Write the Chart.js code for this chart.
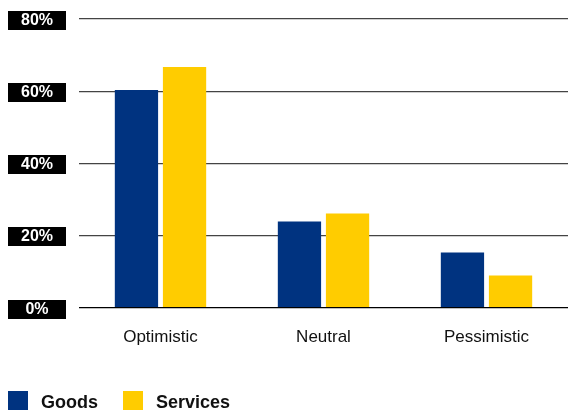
<!DOCTYPE html>
<html>
<head>
<meta charset="utf-8">
<script src="https://cdn.jsdelivr.net/npm/chart.js@4.4.0/dist/chart.umd.min.js"></script>
<style>
  html, body { margin: 0; padding: 0; background: #fff; }
  #wrap { position: relative; width: 568px; height: 410px; }
  #legend { position: absolute; left: 8px; top: 390px; display: flex; font: bold 18px "Liberation Sans", Arial, sans-serif; color: #111; }
  #legend .item { display: flex; align-items: center; margin-right: 25px; height: 20px; padding-top: 2px; }
  #legend .box { width: 20px; height: 20px; margin-right: 13px; margin-top: -2px; }
</style>
</head>
<body>
<div id="wrap">
  <canvas id="myChart" width="568" height="410"></canvas>
  <div id="legend"></div>
</div>
<script>
const categories = ["Optimistic", "Neutral", "Pessimistic"];
const goods = [60.3, 23.9, 15.3];
const services = [66.7, 26.1, 8.9];
const tickValues = [0, 20, 40, 60, 80];

const seriesColors = { Goods: "#003380", Services: "#ffcc00" };

// Black label boxes for the y axis
const yLabelBoxes = {
  id: "yLabelBoxes",
  afterDraw(chart) {
    const { ctx, scales } = chart;
    ctx.save();
    ctx.font = "bold 16px 'Liberation Sans', Arial, sans-serif";
    ctx.textAlign = "center";
    ctx.textBaseline = "middle";
    tickValues.forEach((v) => {
      const y = Math.round(scales.y.getPixelForValue(v));
      ctx.fillStyle = "#000";
      ctx.fillRect(8, y - 8, 58, 19);
      ctx.fillStyle = "#fff";
      ctx.fillText(v + "%", 37, y + 2);
    });
    ctx.restore();
  },
};

const ctx = document.getElementById("myChart").getContext("2d");
const chart = new Chart(ctx, {
  type: "bar",
  data: {
    labels: categories,
    datasets: [
      { label: "Goods", data: goods, backgroundColor: seriesColors.Goods },
      { label: "Services", data: services, backgroundColor: seriesColors.Services },
    ],
  },
  options: {
    responsive: false,
    animation: false,
    layout: { padding: { top: 19, left: 79, right: 0, bottom: 42 } },
    categoryPercentage: 0.59,
    barPercentage: 0.9,
    plugins: { legend: { display: false }, tooltip: { enabled: false } },
    scales: {
      x: {
        grid: { display: false, drawTicks: false },
        border: { display: false },
        ticks: {
          padding: 20,
          color: "#111",
          font: { family: "'Liberation Sans', Arial, sans-serif", size: 17 },
        },
      },
      y: {
        min: 0,
        max: 80,
        afterBuildTicks: (scale) => {
          scale.ticks = tickValues.map((v) => ({ value: v }));
        },
        ticks: { display: false },
        grid: {
          drawTicks: false,
          color: (c) => (c.tick && c.tick.value === 0 ? "#000" : "#444"),
          lineWidth: 1.3,
        },
        border: { display: false },
      },
    },
  },
  plugins: [yLabelBoxes],
});

// HTML legend built from the datasets
const legendEl = document.getElementById("legend");
chart.data.datasets.forEach((ds) => {
  const item = document.createElement("div");
  item.className = "item";
  item.innerHTML =
    '<span class="box" style="background:' + ds.backgroundColor + '"></span>' + ds.label;
  legendEl.appendChild(item);
});
</script>
</body>
</html>
